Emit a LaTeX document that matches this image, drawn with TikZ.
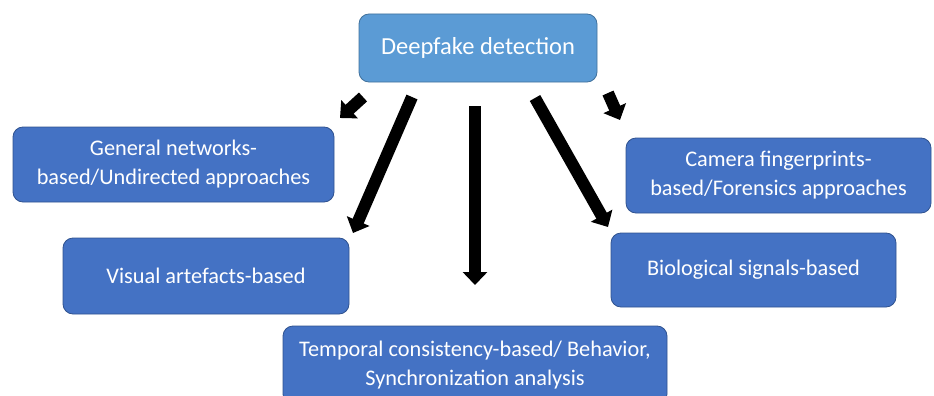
\documentclass[tikz,border=0pt]{standalone}
\usepackage{fontspec}
\setmainfont{Carlito}
\usetikzlibrary{arrows.meta}
\definecolor{topfill}{HTML}{5B9BD5}
\definecolor{topdraw}{HTML}{41719C}
\definecolor{boxfill}{HTML}{4472C4}
\definecolor{boxdraw}{HTML}{2F528F}
\begin{document}
\begin{tikzpicture}[x=1pt,y=-1pt,
  box/.style={draw=boxdraw, fill=boxfill, rounded corners=10pt, text=white,
    font=\fontsize{22.3}{29}\selectfont, align=center, line width=0.8pt, inner sep=0pt},
  blk/.style={line width=12pt, -{Triangle[width=24pt,length=13pt]}, black}]
\useasboundingbox (0,0) rectangle (934,396);
\clip (0,0) rectangle (934,396);
\node[box, fill=topfill, draw=topdraw, minimum width=238pt, minimum height=68pt, font=\fontsize{24.5}{30}\selectfont] (top) at (478,48) {Deepfake detection};
\node[box, minimum width=321pt, minimum height=75pt] (gen) at (173.5,164.5) {General networks-\\based/Undirected approaches};
\node[box, minimum width=286pt, minimum height=76pt] (vis) at (206,276) {Visual artefacts-based};
\node[box, minimum width=305pt, minimum height=75pt] (cam) at (778.5,175.5) {Camera fingerprints-\\based/Forensics approaches};
\node[box, minimum width=285pt, minimum height=74pt] (bio) at (753.5,270) {Biological signals-based};
\node[box, minimum width=384pt, minimum height=78pt] (tem) at (475,365) {Temporal consistency-based/ Behavior,\\Synchronization analysis};
\coordinate (a1s) at (363,97);  \coordinate (a1e) at (340,118);
\coordinate (a2s) at (412,97);  \coordinate (a2e) at (353,233);
\coordinate (a3s) at (475,106); \coordinate (a3e) at (475,285);
\coordinate (a4s) at (535,98);  \coordinate (a4e) at (608,227);
\coordinate (a5s) at (608,93);  \coordinate (a5e) at (620,120);
\draw[blk] (a1s) -- (a1e);
\draw[blk] (a2s) -- (a2e);
\draw[blk] (a3s) -- (a3e);
\draw[blk] (a4s) -- (a4e);
\draw[blk] (a5s) -- (a5e);
\end{tikzpicture}
\end{document}
